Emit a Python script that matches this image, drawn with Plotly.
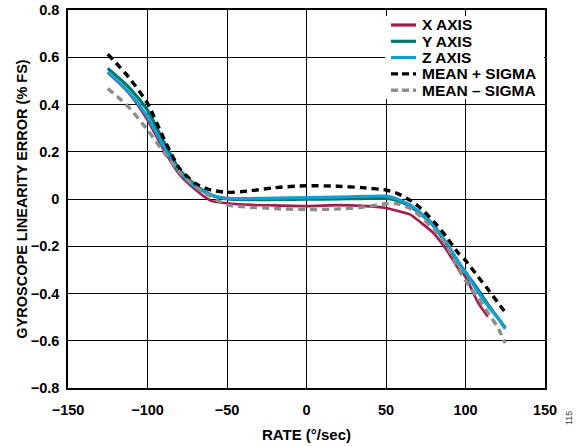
import plotly.graph_objects as go

# ---- data ----
rate = [-125, -112, -100, -90, -80, -70, -60, -50, -35, -20, 0, 20, 35, 50,
        57, 65, 72, 80, 88, 95, 100, 108, 115, 120, 125]
rate_x = [-125, -112, -100, -90, -80, -70, -60, -50, -35, -20, 0, 20, 35, 50,
          57, 65, 72, 80, 88, 95, 100, 108, 114]

x_axis = [0.535, 0.45, 0.334, 0.21, 0.105, 0.04, -0.008, -0.018, -0.025, -0.027,
          -0.03, -0.026, -0.029, -0.038, -0.05, -0.065, -0.1, -0.145, -0.215,
          -0.29, -0.33, -0.44, -0.498]
y_axis = [0.553, 0.475, 0.376, 0.245, 0.125, 0.059, 0.017, 0.0, -0.003, -0.002,
          -0.001, 0.0, 0.002, 0.002, -0.006, -0.03, -0.065, -0.115, -0.19,
          -0.265, -0.31, -0.385, -0.455, -0.5, -0.545]
z_axis = [0.538, 0.454, 0.348, 0.225, 0.115, 0.052, 0.017, 0.003, 0.002, 0.004,
          0.006, 0.008, 0.011, 0.012, 0.0, -0.025, -0.06, -0.11, -0.185,
          -0.26, -0.31, -0.395, -0.46, -0.5, -0.55]
mean_plus = [0.613, 0.517, 0.405, 0.26, 0.13, 0.066, 0.038, 0.028, 0.035, 0.048,
             0.056, 0.054, 0.048, 0.038, 0.024, -0.005, -0.04, -0.095, -0.16,
             -0.225, -0.26, -0.33, -0.39, -0.435, -0.48]
mean_minus = [0.468, 0.39, 0.292, 0.2, 0.115, 0.052, 0.01, -0.025, -0.035, -0.04,
              -0.045, -0.042, -0.035, -0.02, -0.02, -0.04, -0.075, -0.13, -0.195,
              -0.29, -0.345, -0.42, -0.49, -0.54, -0.61]

x_ticks = [-150, -100, -50, 0, 50, 100, 150]
y_ticks = [0.8, 0.6, 0.4, 0.2, 0, -0.2, -0.4, -0.6, -0.8]
y_tick_text = ["0.8", "0.6", "0.4", "0.2", "0", "\u22120.2", "\u22120.4", "\u22120.6", "\u22120.8"]
x_tick_text = ["\u2212150", "\u2212100", "\u221250", "0", "50", "100", "150"]

FONT = "Liberation Sans, Arial, sans-serif"

series = [
    ("X AXIS", rate_x, x_axis, "#A51C4C", "solid", 2.6),
    ("Y AXIS", rate, y_axis, "#00776B", "solid", 3.2),
    ("Z AXIS", rate, z_axis, "#129FD4", "solid", 3.2),
    ("MEAN + SIGMA", rate, mean_plus, "#000000", "7px,5px", 3.4),
    ("MEAN \u2013 SIGMA", rate, mean_minus, "#8C8C8C", "7px,5px", 3.4),
]

fig = go.Figure()
for name, xs, ys, color, dash, width in series:
    fig.add_trace(go.Scatter(
        x=xs, y=ys, name=name, mode="lines", showlegend=False,
        line=dict(color=color, dash=dash, width=width, shape="spline", smoothing=0.6),
    ))

L, T, R, B = 68, 10, 40, 58
W, H = 585 - L - R, 446 - T - B
def px_to_paper(px, py):
    return (px - L) / W, 1 - (py - T) / H

# ---- compact legend box (tight row spacing as in the reference) ----
bx0, by0 = px_to_paper(385, 16)
bx1, by1 = px_to_paper(544, 99)
fig.add_shape(type="rect", xref="paper", yref="paper", x0=bx0, y0=by1, x1=bx1, y1=by0,
              fillcolor="white", line=dict(width=0), layer="above")
row0, step = 25, 16.3
for i, (name, xs, ys, color, dash, width) in enumerate(series):
    cy = row0 + i * step
    sx0, sy = px_to_paper(391, cy)
    sx1, _ = px_to_paper(416, cy)
    fig.add_shape(type="line", xref="paper", yref="paper", x0=sx0, x1=sx1, y0=sy, y1=sy,
                  line=dict(color=color, width=3.4 if dash != "solid" else 3.2,
                            dash="7px,4px" if dash != "solid" else "solid"),
                  layer="above")
    tx, ty = px_to_paper(420, cy)
    fig.add_annotation(x=tx, y=ty, xref="paper", yref="paper", text=name,
                       showarrow=False, xanchor="left", yanchor="middle",
                       font=dict(family=FONT, size=15.5, color="black", weight="bold"))

ax, ay = px_to_paper(576, 427)
fig.add_annotation(x=ax, y=ay, xref="paper", yref="paper", text="115", textangle=-90,
                   showarrow=False, font=dict(family=FONT, size=9, color="#333333"))

axis_common = dict(
    showgrid=True, gridcolor="black", gridwidth=1,
    showline=True, linecolor="black", linewidth=1.5, mirror=True,
    zeroline=False, ticks="", automargin=False, ticklabeloverflow="allow",
    tickfont=dict(family=FONT, size=14.5, color="black", weight="bold"),
)

fig.update_layout(
    width=585, height=446,
    margin=dict(l=L, r=R, t=T, b=B),
    paper_bgcolor="white", plot_bgcolor="white",
    showlegend=False,
    xaxis=dict(range=[-150, 150], tickvals=x_ticks, ticktext=x_tick_text,
               ticklabelstandoff=8,
               title=dict(text="RATE (\u00b0/sec)", standoff=12,
                          font=dict(family=FONT, size=15, color="black", weight="bold")),
               **axis_common),
    yaxis=dict(range=[-0.8, 0.8], tickvals=y_ticks, ticktext=y_tick_text,
               ticklabelstandoff=4,
               title=dict(text="GYROSCOPE LINEARITY ERROR (% FS)", standoff=0,
                          font=dict(family=FONT, size=14.5, color="black", weight="bold")),
               **axis_common),
)

# remove the browser's default 8px body margin so the figure fills the window
fig.write_html("out.html", config={"displayModeBar": False},
               post_script="document.body.style.margin='0';")
